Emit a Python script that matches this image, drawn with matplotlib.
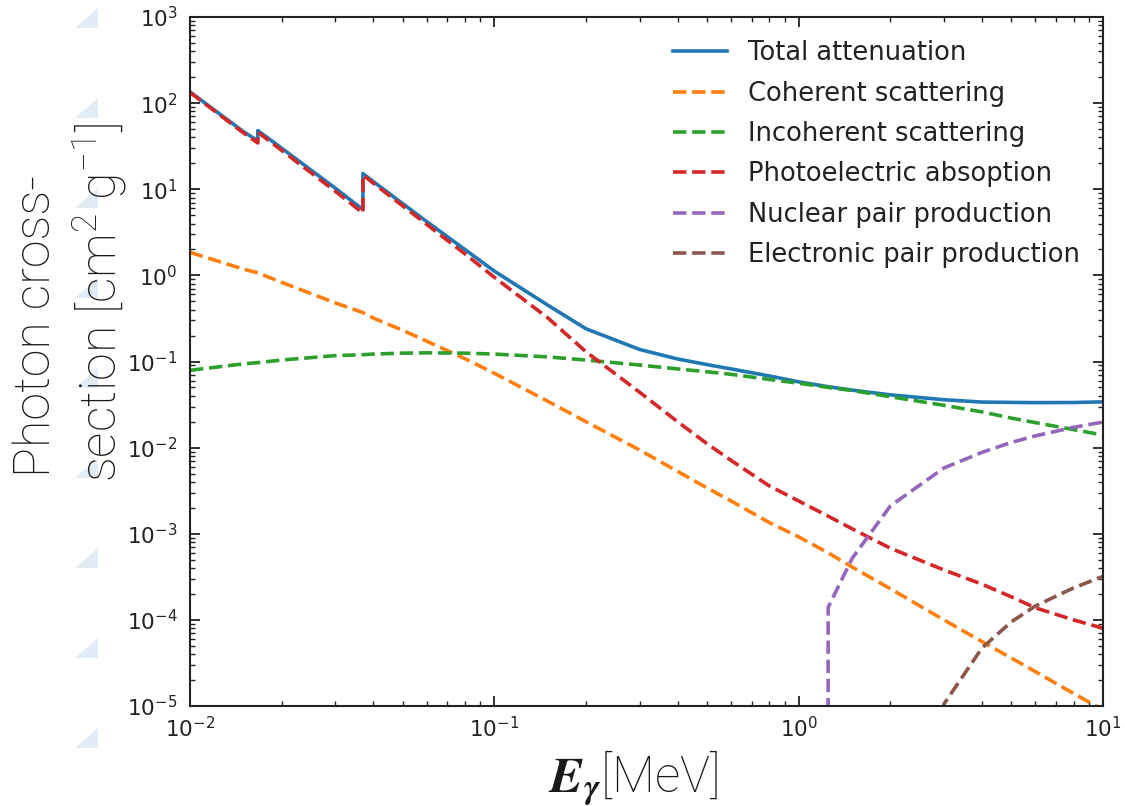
import matplotlib
matplotlib.use("Agg")
import matplotlib.pyplot as plt
from matplotlib.patches import Polygon

# photon interaction cross sections [cm^2/g] vs photon energy [MeV]
energy = [0.01, 0.015, 0.0167, 0.0167, 0.02, 0.03, 0.037, 0.037, 0.04, 0.05,
          0.06, 0.08, 0.1, 0.15, 0.2, 0.3, 0.4, 0.5, 0.6, 0.8,
          1.0, 1.25, 1.5, 2.0, 3.0, 4.0, 5.0, 6.0, 8.0, 10.0]

total = [135, 46.5, 36.5, 48, 30, 10.3, 5.8, 15.2, 12.3, 6.8,
         4.2, 2.0, 1.12, 0.45, 0.24, 0.138, 0.107, 0.092, 0.082, 0.068,
         0.058, 0.051, 0.0465, 0.041, 0.036, 0.0338, 0.0335, 0.0333, 0.0334, 0.034]

coherent = [1.85, 1.18, 1.07, 1.07, 0.83, 0.48, 0.37, 0.37, 0.32, 0.23,
            0.172, 0.108, 0.073, 0.0345, 0.020, 0.0094, 0.0053, 0.0034, 0.0024, 0.00135,
            0.00092, 0.0006, 0.00041, 0.00023, 1.0e-4, 5.6e-5, 3.6e-5, 2.5e-5, 1.4e-5, 9e-6]

incoherent = [0.079, 0.094, 0.097, 0.097, 0.104, 0.117, 0.120, 0.120, 0.122, 0.125,
              0.126, 0.125, 0.122, 0.113, 0.104, 0.091, 0.082, 0.076, 0.071, 0.062,
              0.056, 0.050, 0.046, 0.039, 0.031, 0.026, 0.022, 0.0195, 0.0162, 0.014]

photoelectric = [133, 45, 34.5, 46, 28.3, 9.5, 5.3, 14.6, 11.8, 6.4,
                 3.9, 1.78, 0.95, 0.32, 0.13, 0.044, 0.020, 0.0111, 0.0071, 0.0036,
                 0.0024, 0.0016, 0.00114, 0.00068, 0.00038, 0.00026, 0.000185, 0.000138, 1.0e-4, 8e-5]

# pair production only above threshold (zero at threshold -> clipped on log axis)
nuc_energy = [1.022, 1.25, 1.5, 2.0, 3.0, 4.0, 5.0, 6.0, 8.0, 10.0]
nuc_pair = [0.0, 1.4e-4, 5.2e-4, 2.1e-3, 5.8e-3, 8.8e-3, 0.0115, 0.0137, 0.0172, 0.0198]

el_energy = [2.044, 3.0, 4.0, 5.0, 6.0, 8.0, 10.0]
el_pair = [0.0, 1.05e-5, 4.7e-5, 9.5e-5, 1.45e-4, 2.35e-4, 3.2e-4]

series = [
    (energy, coherent, "Coherent scattering", "#ff7f0e"),
    (energy, incoherent, "Incoherent scattering", "#2ca02c"),
    (energy, photoelectric, "Photoelectric absoption", "#d62728"),
    (nuc_energy, nuc_pair, "Nuclear pair production", "#9467bd"),
    (el_energy, el_pair, "Electronic pair production", "#8c564b"),
]

W, H = 1125, 806
fig = plt.figure(figsize=(W / 100, H / 100), dpi=100)

# faint slide-background triangles down the left margin
for yb in range(28, 760, 90):
    tri = Polygon([(75 / W, 1 - yb / H), (98 / W, 1 - yb / H), (98 / W, 1 - (yb - 20) / H)],
                  closed=True, transform=fig.transFigure, facecolor="#e2ecf6",
                  edgecolor="none", zorder=0)
    fig.patches.append(tri)

ax = fig.add_axes([190 / W, 1 - 706 / H, (1103 - 190) / W, (706 - 17) / H])
ax.set_xscale("log", nonpositive="clip")
ax.set_yscale("log", nonpositive="clip")

ax.plot(energy, total, color="#1f77b4", lw=2.6, label="Total attenuation")
for xs, ys, lab, col in series:
    ax.plot(xs, ys, color=col, lw=2.6, ls="--", label=lab)

ax.set_xlim(1e-2, 1e1)
ax.set_ylim(1e-5, 1e3)

for s in ax.spines.values():
    s.set_linewidth(1.5)
    s.set_color("#222222")
ax.tick_params(which="both", direction="in", top=True, right=True, colors="#222222")
ax.tick_params(which="major", length=7, width=1.3, labelsize=15.5)
ax.tick_params(which="minor", length=3.8, width=1.0)
ax.tick_params(axis="x", which="major", pad=7)
ax.tick_params(axis="y", which="major", pad=9)

leg = ax.legend(loc="upper right", frameon=False, fontsize=18.5, handlelength=2.1,
                handletextpad=0.8, labelspacing=0.56, borderaxespad=0.5)
for t in leg.get_texts():
    t.set_color("#222222")

# axis titles, two-line y title drawn line by line
label_font = dict(family="Roboto", fontweight="light", fontsize=36, color="#1a1a1a")
fig.text(36 / W, 1 - 326 / H, "Photon cross-", rotation=90,
         ha="center", va="center", **label_font)
fig.text(100 / W, 1 - 302 / H, "section [cm$\\mathdefault{^{2}}$ g$\\mathdefault{^{-1}}$]",
         rotation=90, ha="center", va="center", **label_font)
fig.text(633 / W, 1 - 778 / H, "$\\mathbfit{E}_{\\mathbfit{\\gamma}}$[MeV]",
         ha="center", va="center", math_fontfamily="stix", **label_font)

fig.savefig("out.png", dpi=100)
